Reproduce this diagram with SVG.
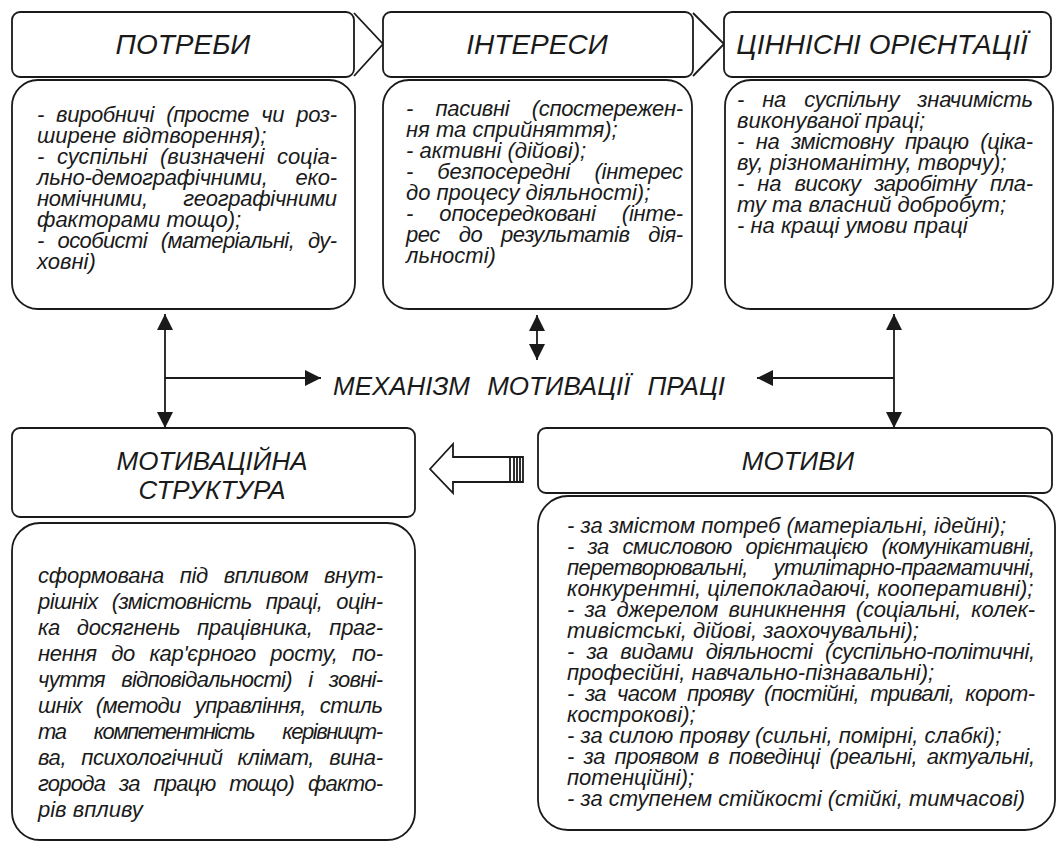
<svg xmlns="http://www.w3.org/2000/svg" width="1061" height="843" viewBox="0 0 1061 843">
<defs>
<style>
.box{fill:#fff;stroke:#1a1a1a;stroke-width:1.8}
.ln{fill:none;stroke:#1a1a1a;stroke-width:1.8}
.hd{font-family:"Liberation Sans",Arial,sans-serif;font-style:italic;font-size:28px;fill:#1a1a1a;text-anchor:middle}
.hd2{font-family:"Liberation Sans",Arial,sans-serif;font-style:italic;font-size:26px;fill:#1a1a1a;text-anchor:middle}
.mk{font-family:"Liberation Sans",Arial,sans-serif;font-style:italic;font-size:26px;fill:#1a1a1a;word-spacing:10px}
.tx{font-family:"Liberation Sans",Arial,sans-serif;font-style:italic;font-size:22px;fill:#1a1a1a}
</style>
<marker id="ah" viewBox="0 0 16 16" refX="16" refY="8" markerWidth="16" markerHeight="16" markerUnits="userSpaceOnUse" orient="auto-start-reverse">
<path d="M0,0 L16,8 L0,16 Z" fill="#1a1a1a"/>
</marker>
</defs>
<rect width="1061" height="843" fill="#fff"/>

<g id="potreby">
<rect class="box" x="12" y="12" width="342" height="65" rx="8"/>
<polyline class="ln" points="354,13 383,44 354,76"/>
<text class="hd" x="183" y="54">ПОТРЕБИ</text>
<rect class="box" x="12" y="80" width="343" height="229" rx="26"/>
<text class="tx" x="37" y="122" style="word-spacing:6.4px" textLength="300" lengthAdjust="spacing">- виробничі (просте чи роз-</text>
<text class="tx" x="37" y="143">ширене відтворення);</text>
<text class="tx" x="37" y="164" style="word-spacing:6.6px" textLength="300" lengthAdjust="spacing">- суспільні (визначені соціа-</text>
<text class="tx" x="37" y="185" style="word-spacing:22px" textLength="300" lengthAdjust="spacing">льно-демографічними, еко-</text>
<text class="tx" x="37" y="206" style="word-spacing:29.5px" textLength="300" lengthAdjust="spacing">номічними, географічними</text>
<text class="tx" x="37" y="227">факторами тощо);</text>
<text class="tx" x="37" y="248" style="word-spacing:8.4px" textLength="300" lengthAdjust="spacing">- особисті (матеріальні, ду-</text>
<text class="tx" x="37" y="269">ховні)</text>
</g>

<g id="interesy">
<rect class="box" x="383" y="12" width="310" height="65" rx="8"/>
<polyline class="ln" points="693,13 724,44 693,76"/>
<text class="hd" x="537" y="54">ІНТЕРЕСИ</text>
<rect class="box" x="383" y="80" width="309" height="229" rx="26"/>
<text class="tx" x="406" y="116" style="word-spacing:16.8px" textLength="277" lengthAdjust="spacing">- пасивні (спостережен-</text>
<text class="tx" x="406" y="137">ня та сприйняття);</text>
<text class="tx" x="406" y="158">- активні (дійові);</text>
<text class="tx" x="406" y="179" style="word-spacing:18.3px" textLength="277" lengthAdjust="spacing">- безпосередні (інтерес</text>
<text class="tx" x="406" y="200">до процесу діяльності);</text>
<text class="tx" x="406" y="221" style="word-spacing:20.3px" textLength="277" lengthAdjust="spacing">- опосередковані (інте-</text>
<text class="tx" x="406" y="242" style="word-spacing:13.2px" textLength="277" lengthAdjust="spacing">рес до результатів дія-</text>
<text class="tx" x="406" y="263">льності)</text>
</g>

<g id="tsinnisni">
<rect class="box" x="724" y="12" width="327" height="65" rx="8"/>
<text class="hd" x="882" y="54">ЦІННІСНІ ОРІЄНТАЦІЇ</text>
<rect class="box" x="725" y="80" width="328" height="229" rx="26"/>
<text class="tx" x="737" y="107" style="word-spacing:12.2px" textLength="296" lengthAdjust="spacing">- на суспільну значимість</text>
<text class="tx" x="737" y="128">виконуваної праці;</text>
<text class="tx" x="737" y="149" style="word-spacing:6.1px" textLength="296" lengthAdjust="spacing">- на змістовну працю (ціка-</text>
<text class="tx" x="737" y="170">ву, різноманітну, творчу);</text>
<text class="tx" x="737" y="191" style="word-spacing:7.6px" textLength="296" lengthAdjust="spacing">- на високу заробітну пла-</text>
<text class="tx" x="737" y="212">ту та власний добробут;</text>
<text class="tx" x="737" y="233">- на кращі умови праці</text>
</g>

<g id="mekhanizm">
<text class="mk" x="333" y="395" textLength="392" lengthAdjust="spacing">МЕХАНІЗМ МОТИВАЦІЇ ПРАЦІ</text>
</g>

<g id="motyvatsiina-struktura">
<rect class="box" x="12" y="428" width="403" height="89" rx="8"/>
<text class="hd2" x="212" y="470">МОТИВАЦІЙНА</text>
<text class="hd2" x="212" y="499">СТРУКТУРА</text>
<rect class="box" x="12" y="523" width="403" height="317" rx="28"/>
<text class="tx" x="38" y="583" style="word-spacing:9.9px" textLength="345" lengthAdjust="spacing">сформована під впливом внут-</text>
<text class="tx" x="38" y="609" style="word-spacing:8.6px" textLength="345" lengthAdjust="spacing">рішніх (змістовність праці, оцін-</text>
<text class="tx" x="38" y="635" style="word-spacing:10.8px" textLength="345" lengthAdjust="spacing">ка досягнень працівника, праг-</text>
<text class="tx" x="38" y="661" style="word-spacing:8.7px" textLength="345" lengthAdjust="spacing">нення до кар'єрного росту, по-</text>
<text class="tx" x="38" y="687" style="word-spacing:11px" textLength="345" lengthAdjust="spacing">чуття відповідальності) і зовні-</text>
<text class="tx" x="38" y="713" style="word-spacing:8.5px" textLength="345" lengthAdjust="spacing">шніх (методи управління, стиль</text>
<text class="tx" x="38" y="739" style="word-spacing:23.6px" textLength="345" lengthAdjust="spacing">та компетентність керівницт-</text>
<text class="tx" x="38" y="765" style="word-spacing:9.3px" textLength="345" lengthAdjust="spacing">ва, психологічний клімат, вина-</text>
<text class="tx" x="38" y="791" style="word-spacing:8.5px" textLength="345" lengthAdjust="spacing">города за працю тощо) факто-</text>
<text class="tx" x="38" y="817">рів впливу</text>
</g>

<g id="motyvy">
<rect class="box" x="538" y="428" width="514" height="65" rx="8"/>
<text class="hd2" x="798" y="470">МОТИВИ</text>
<rect class="box" x="538" y="496" width="517" height="334" rx="30"/>
<text class="tx" x="567" y="533">- за змістом потреб (матеріальні, ідейні);</text>
<text class="tx" x="567" y="554" style="word-spacing:8.1px" textLength="468" lengthAdjust="spacing">- за смисловою орієнтацією (комунікативні,</text>
<text class="tx" x="567" y="575" style="word-spacing:20px" textLength="468" lengthAdjust="spacing">перетворювальні, утилітарно-прагматичні,</text>
<text class="tx" x="567" y="596">конкурентні, цілепокладаючі, кооперативні);</text>
<text class="tx" x="567" y="617" style="word-spacing:4.3px" textLength="468" lengthAdjust="spacing">- за джерелом виникнення (соціальні, колек-</text>
<text class="tx" x="567" y="638">тивістські, дійові, заохочувальні);</text>
<text class="tx" x="567" y="659" style="word-spacing:6.9px" textLength="468" lengthAdjust="spacing">- за видами діяльності (суспільно-політичні,</text>
<text class="tx" x="567" y="680">професійні, навчально-пізнавальні);</text>
<text class="tx" x="567" y="701" style="word-spacing:5.7px" textLength="468" lengthAdjust="spacing">- за часом прояву (постійні, тривалі, корот-</text>
<text class="tx" x="567" y="722">кострокові);</text>
<text class="tx" x="567" y="743">- за силою прояву (сильні, помірні, слабкі);</text>
<text class="tx" x="567" y="764" style="word-spacing:3.6px" textLength="468" lengthAdjust="spacing">- за проявом в поведінці (реальні, актуальні,</text>
<text class="tx" x="567" y="785">потенційні);</text>
<text class="tx" x="567" y="806">- за ступенем стійкості (стійкі, тимчасові)</text>
</g>

<g id="connectors">
<line class="ln" x1="165" y1="314" x2="165" y2="428" marker-start="url(#ah)" marker-end="url(#ah)"/>
<line class="ln" x1="165" y1="378" x2="321" y2="378" marker-end="url(#ah)"/>
<line class="ln" x1="537" y1="315" x2="537" y2="360" marker-start="url(#ah)" marker-end="url(#ah)"/>
<line class="ln" x1="894" y1="314" x2="894" y2="428" marker-start="url(#ah)" marker-end="url(#ah)"/>
<line class="ln" x1="894" y1="378" x2="757" y2="378" marker-end="url(#ah)"/>
<path class="ln" d="M430,469 L453,444 L453,457 L510,457 L510,482 L453,482 L453,493 Z"/>
<path class="ln" d="M510,457 L523,457 L523,482 L510,482 M514,457 L514,482 M517,457 L517,482 M520,457 L520,482"/>
</g>
</svg>
